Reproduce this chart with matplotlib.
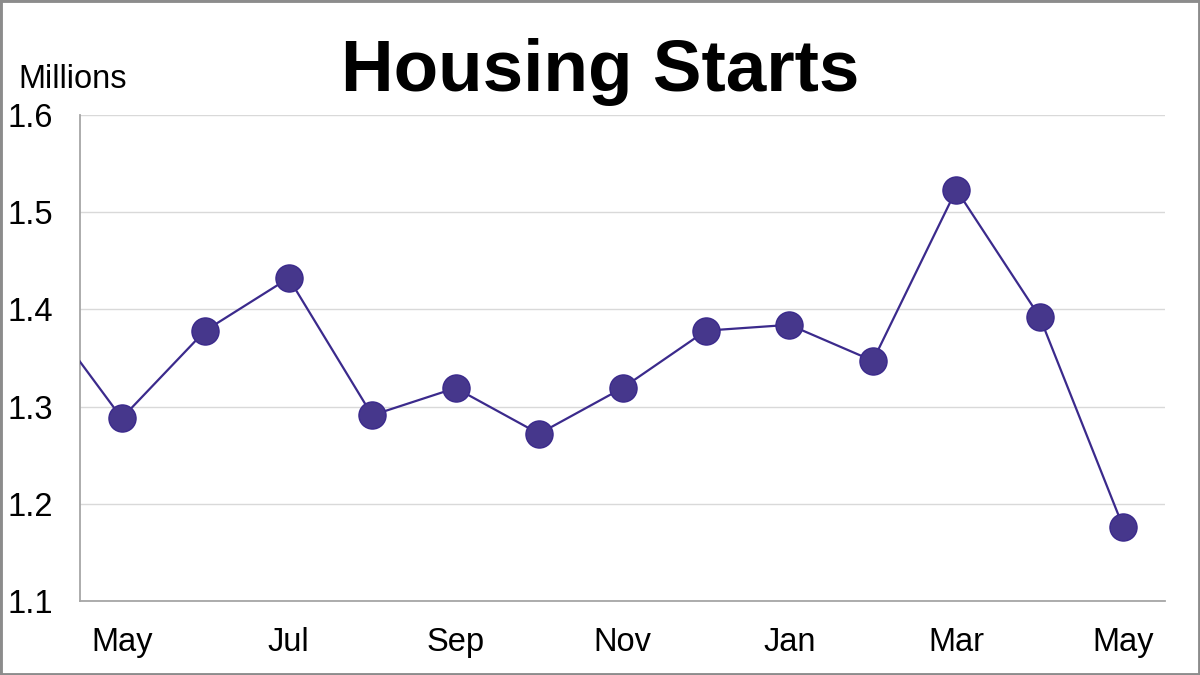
import numpy as np
import matplotlib.pyplot as plt
from matplotlib.patches import Rectangle

plt.rcParams['font.family'] = ['Liberation Sans', 'DejaVu Sans']

# monthly housing starts (millions), Apr through the following May
months = ['Apr', 'May', 'Jun', 'Jul', 'Aug', 'Sep', 'Oct', 'Nov', 'Dec',
          'Jan', 'Feb', 'Mar', 'Apr', 'May']
starts = [1.404, 1.288, 1.378, 1.432, 1.291, 1.319, 1.272, 1.319, 1.378,
          1.384, 1.347, 1.523, 1.392, 1.176]
tick_idx = [1, 3, 5, 7, 9, 11, 13]
yticks = [1.1, 1.2, 1.3, 1.4, 1.5, 1.6]

LINE = '#3b2a8c'
DOT = '#46378c'

x = np.arange(len(starts))

fig = plt.figure(figsize=(12, 6.75), dpi=100)
ax = fig.add_axes([0.0667, 0.1096, 0.9041, 0.7204])

ax.plot(x, starts, '-', color=LINE, lw=1.6, zorder=3)
ax.plot(x[1:], starts[1:], 'o', ms=19.5, color=DOT, mec=LINE, mew=1, zorder=4)

ax.set_xlim(0.5, 13.5)
ax.set_ylim(1.1, 1.6)
ax.set_xticks([x[i] for i in tick_idx])
ax.set_xticklabels([months[i] for i in tick_idx])
ax.set_yticks(yticks)
ax.set_yticklabels([f'{v:.1f}' for v in yticks])
ax.tick_params(axis='both', length=0, labelsize=23.5)
ax.tick_params(axis='x', pad=19)
for lab in ax.get_yticklabels():
    lab.set_horizontalalignment('left')
ax.yaxis.set_tick_params(pad=52)

ax.grid(axis='y', color='#d9d9d9', lw=1)
ax.set_axisbelow(True)
for s in ['top', 'right']:
    ax.spines[s].set_visible(False)
for s in ['left', 'bottom']:
    ax.spines[s].set_color('#a6a6a6')
    ax.spines[s].set_linewidth(1.3)

fig.text(0.5, 0.893, 'Housing Starts', ha='center', va='center',
         fontsize=52.5, fontweight='bold')
fig.text(0.015, 0.882, 'Millions', ha='left', va='center', fontsize=23.5)

fig.patches.append(Rectangle((0, 0), 1, 1, transform=fig.transFigure,
                             fill=False, ec='#8c8c8c', lw=3.5))

fig.savefig('out.png', dpi=100)
